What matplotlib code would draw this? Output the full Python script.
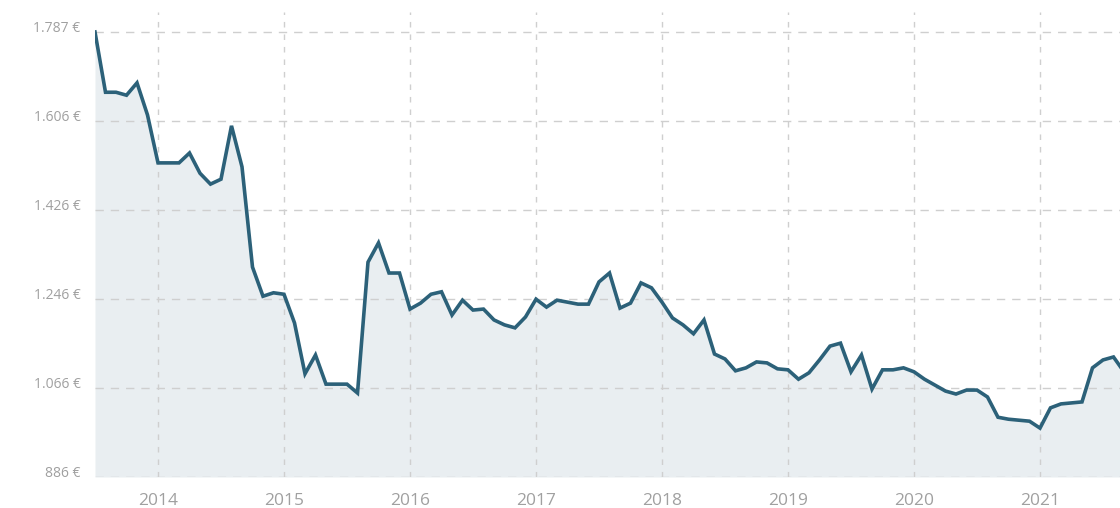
import matplotlib
matplotlib.use("Agg")
import matplotlib.pyplot as plt

# monthly prices, Jul 2013 .. Sep 2021
prices = [
    1787, 1665, 1665, 1659, 1684, 1619, 1522, 1522, 1522, 1542,
    1501, 1479, 1489, 1597, 1514, 1311, 1252, 1259, 1256, 1198,
    1095, 1133, 1074, 1074, 1074, 1056, 1321, 1360, 1299, 1299,
    1226, 1238, 1256, 1261, 1214, 1244, 1224, 1226, 1204, 1194,
    1188, 1210, 1246, 1230, 1244, 1240, 1236, 1236, 1281, 1299,
    1228, 1238, 1279, 1269, 1240, 1208, 1194, 1176, 1204, 1135,
    1125, 1101, 1107, 1119, 1117, 1105, 1103, 1084, 1097, 1123,
    1151, 1157, 1099, 1133, 1064, 1103, 1103, 1107, 1099, 1084,
    1072, 1060, 1054, 1062, 1062, 1048, 1007, 1003, 1001, 999,
    985, 1026, 1034, 1036, 1038, 1107, 1123, 1129, 1099,
]
years = ["2014", "2015", "2016", "2017", "2018", "2019", "2020", "2021"]
year_month_idx = [6, 18, 30, 42, 54, 66, 78, 90]  # January of each year
y_ticks = [886, 1066.2, 1246.4, 1426.6, 1606.8, 1787]
y_labels = ["886 €", "1.066 €", "1.246 €", "1.426 €", "1.606 €", "1.787 €"]

line_color = "#2c6179"
fill_color = "#e9eef1"
grid_color = "#cfcfcf"
text_color = "#a0a0a0"

plt.rcParams["font.family"] = ["Open Sans", "DejaVu Sans"]

fig = plt.figure(figsize=(11.2, 5.08), dpi=100)
ax = fig.add_axes([95 / 1120, 31 / 508, 1025 / 1120, 465 / 508])

x = list(range(len(prices)))
ax.fill_between(x, prices, y_ticks[0], color=fill_color, linewidth=0, zorder=1)
ax.plot(x, prices, color=line_color, linewidth=2.6, solid_joinstyle="miter", zorder=3)

ax.set_xlim(0, 97.62)
ax.set_ylim(886, 1827.5)

ax.set_yticks(y_ticks)
ax.set_yticklabels(y_labels)
ax.set_xticks(year_month_idx)
ax.set_xticklabels(years)

for lbl in ax.get_yticklabels():
    lbl.set_verticalalignment("baseline")

ax.tick_params(axis="both", length=0, labelcolor=text_color)
ax.tick_params(axis="y", pad=10.5, labelsize=10)
ax.tick_params(axis="x", pad=11.5, labelsize=12.5)

ax.grid(axis="y", color=grid_color, linestyle=(0, (6, 5)), linewidth=1, zorder=2)
ax.grid(axis="x", color=grid_color, linestyle=(0, (4, 5)), linewidth=1, zorder=2)

for s in ax.spines.values():
    s.set_visible(False)

fig.savefig("out.png", dpi=100)
